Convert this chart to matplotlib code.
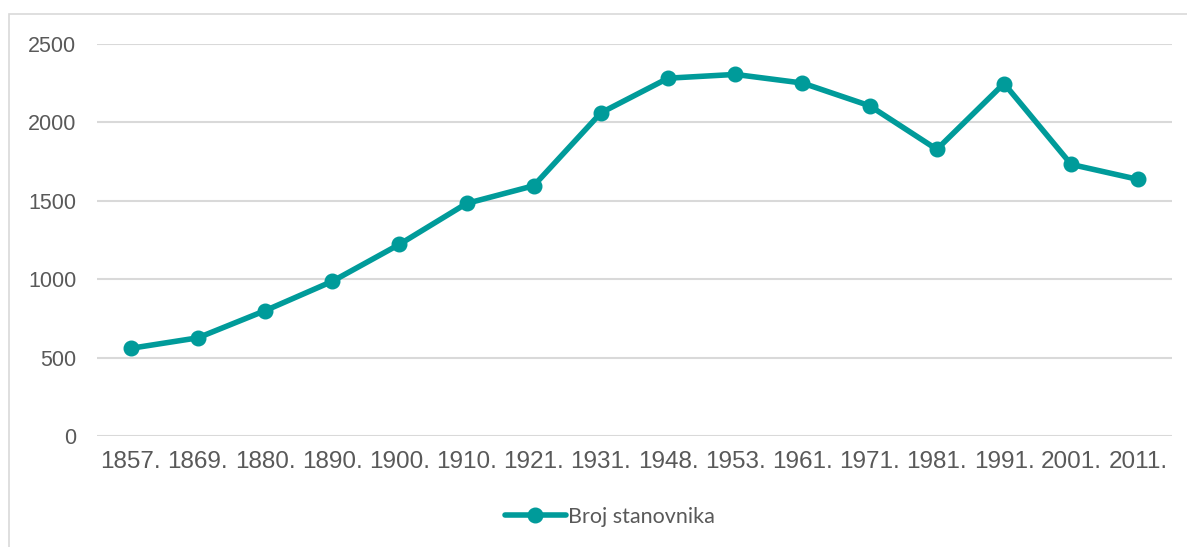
import matplotlib
matplotlib.use("Agg")
import matplotlib.pyplot as plt
from matplotlib.patches import Rectangle

years = ["1857.", "1869.", "1880.", "1890.", "1900.", "1910.", "1921.", "1931.",
         "1948.", "1953.", "1961.", "1971.", "1981.", "1991.", "2001.", "2011."]
population = [559, 626, 799, 986, 1222, 1483, 1596, 2061,
              2282, 2306, 2251, 2106, 1828, 2248, 1732, 1636]
yticks = [0, 500, 1000, 1500, 2000, 2500]
series_name = "Broj stanovnika"

W, H = 1187, 547
fig = plt.figure(figsize=(W / 100, H / 100), dpi=100)
# outer chart border
fig.patches.append(Rectangle((9 / W, -0.1), 1.2, (H - 14) / H + 0.1, transform=fig.transFigure,
                             fill=False, edgecolor="#D9D9D9", linewidth=1.2))

x0, x1 = 97, 1172
ytop, ybot = 44, 436
ax = fig.add_axes([x0 / W, 1 - ybot / H, (x1 - x0) / W, (ybot - ytop) / H])

xs = list(range(len(years)))
color = "#009B9A"
line, = ax.plot(xs, population, color=color, linewidth=4.0, marker="o",
                markersize=10.5, solid_capstyle="round", label=series_name, zorder=3)

ax.set_xlim(-0.5, len(years) - 0.5)
ax.set_ylim(0, 2500)
ax.set_yticks(yticks)
ax.set_xticks(xs)
ax.set_xticklabels(years, fontsize=17.5, color="#595959", family=["Liberation Sans", "DejaVu Sans"])
ax.set_yticklabels([str(v) for v in yticks], fontsize=15.5, color="#595959",
                   family=["Liberation Sans", "DejaVu Sans"])
ax.grid(axis="y", color="#D9D9D9", linewidth=1.5)
ax.set_axisbelow(True)
for s in ax.spines.values():
    s.set_visible(False)
ax.tick_params(axis="both", length=0)
ax.tick_params(axis="y", pad=15)
ax.tick_params(axis="x", pad=11)

leg = fig.legend(handles=[line], loc="center", bbox_to_anchor=(610 / W, 1 - 517 / H),
                 frameon=False, prop={"family": "Lato", "size": 15.5}, handlelength=2.8,
                 handletextpad=0.1)
for t in leg.get_texts():
    t.set_color("#595959")

fig.savefig("out.png", dpi=100)
